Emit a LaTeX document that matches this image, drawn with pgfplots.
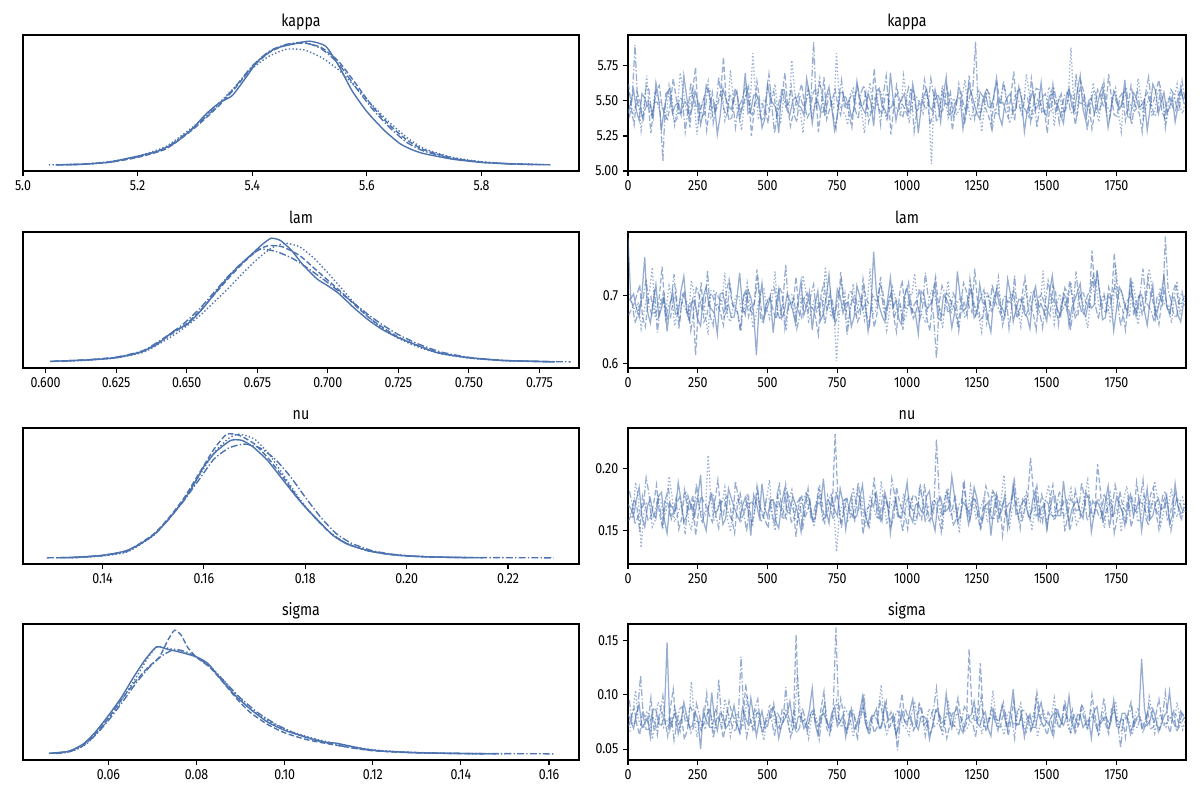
\documentclass[border=0pt]{standalone}
\usepackage{fontspec}
\setmainfont{Fira Sans}[FakeStretch=0.85]
\usepackage{pgfplots}
\pgfplotsset{compat=1.18}
\usepackage{pgfplotstable}

\definecolor{az}{RGB}{76,114,176}

\pgfplotsset{
  panel/.style={scale only axis, height=97.92pt,
    axis line style={line width=0.8pt}, tick style={line width=0.8pt,black},
    major tick length=3.5pt, tick align=outside, xtick pos=bottom, ytick pos=left,
    tick label style={font=\fontsize{10.5}{12}\selectfont},
    every axis title/.style={at={(0.5,1)}, anchor=base, yshift=6pt,
      font=\fontsize{12}{14}\selectfont},
    /pgf/number format/assume math mode=true, /pgf/number format/1000 sep={},
    scaled ticks=false},
  kde/.style={panel, width=400.32pt, ytick=\empty, ymin=-0.05, ymax=1.05,
    xticklabel style={/pgf/number format/fixed, /pgf/number format/fixed zerofill,
      /pgf/number format/precision=#1}},
  trace/.style={panel, width=401.76pt, xmin=0, xmax=1999, xtick={0,250,...,1750},
    yticklabel style={/pgf/number format/fixed, /pgf/number format/fixed zerofill,
      /pgf/number format/precision=#1}},
  k/.style={az, line width=1pt, smooth, tension=0.35},
  c0/.style={k, solid},
  c1/.style={k, dash pattern=on 4pt off 1.8pt},
  c2/.style={k, dash pattern=on 5pt off 1.6pt on 1pt off 1.6pt},
  c3/.style={k, dash pattern=on 1pt off 1.6pt},
  tr/.style={az, line width=0.9pt, opacity=0.58},
}

% draws of the 4 chains (columns), every 10th draw
\pgfplotstableread[header=false,row sep=\\]{
5.41 5.62 5.38 5.55\\ 5.49 5.44 5.52 5.40\\ 5.58 5.33 5.90 5.47\\ 5.43 5.56 5.47 5.51\\
5.36 5.51 5.44 5.29\\ 5.55 5.39 5.35 5.46\\ 5.52 5.44 5.61 5.68\\ 5.46 5.50 5.58 5.42\\
5.47 5.27 5.40 5.39\\ 5.38 5.45 5.49 5.57\\ 5.63 5.58 5.49 5.52\\ 5.51 5.61 5.42 5.48\\
5.30 5.46 5.07 5.45\\ 5.44 5.40 5.55 5.36\\ 5.55 5.37 5.57 5.61\\ 5.59 5.48 5.46 5.53\\
5.42 5.66 5.35 5.33\\ 5.47 5.53 5.37 5.45\\ 5.49 5.41 5.52 5.70\\ 5.40 5.42 5.51 5.59\\
5.68 5.50 5.28 5.44\\ 5.53 5.47 5.44 5.41\\ 5.39 5.31 5.63 5.56\\ 5.45 5.58 5.54 5.50\\
5.57 5.74 5.45 5.26\\ 5.50 5.36 5.48 5.44\\ 5.33 5.45 5.39 5.49\\ 5.42 5.52 5.41 5.55\\
5.61 5.29 5.58 5.64\\ 5.56 5.45 5.57 5.38\\ 5.44 5.56 5.34 5.41\\ 5.48 5.41 5.45 5.49\\
5.26 5.48 5.67 5.53\\ 5.39 5.55 5.52 5.58\\ 5.59 5.81 5.43 5.36\\ 5.52 5.49 5.39 5.43\\
5.46 5.36 5.55 5.72\\ 5.44 5.38 5.50 5.52\\ 5.52 5.59 5.31 5.47\\ 5.57 5.54 5.46 5.41\\
5.37 5.42 5.49 5.29\\ 5.46 5.47 5.56 5.50\\ 5.70 5.53 5.62 5.58\\ 5.41 5.60 5.43 5.45\\
5.43 5.25 5.40 5.84\\ 5.54 5.43 5.49 5.56\\ 5.55 5.64 5.52 5.38\\ 5.49 5.50 5.38 5.42\\
5.31 5.47 5.36 5.51\\ 5.37 5.44 5.53 5.48\\ 5.62 5.34 5.69 5.43\\ 5.51 5.57 5.47 5.54\\
5.48 5.57 5.27 5.62\\ 5.45 5.39 5.42 5.40\\ 5.27 5.45 5.54 5.35\\ 5.58 5.53 5.55 5.51\\
5.58 5.70 5.46 5.49\\ 5.43 5.46 5.48 5.46\\ 5.40 5.32 5.60 5.79\\ 5.50 5.41 5.40 5.57\\
5.53 5.49 5.35 5.44\\ 5.47 5.55 5.54 5.43\\ 5.45 5.62 5.48 5.27\\ 5.40 5.48 5.45 5.50\\
5.66 5.38 5.59 5.57\\ 5.55 5.42 5.51 5.39\\ 5.34 5.55 5.92 5.46\\ 5.48 5.59 5.44 5.53\\
5.50 5.28 5.63 5.66\\ 5.42 5.45 5.57 5.47\\ 5.42 5.67 5.41 5.39\\ 5.53 5.37 5.49 5.55\\
5.60 5.44 5.52 5.52\\ 5.45 5.51 5.40 5.44\\ 5.29 5.58 5.30 5.84\\ 5.39 5.46 5.53 5.49\\
5.56 5.40 5.65 5.42\\ 5.56 5.54 5.46 5.41\\ 5.47 5.52 5.45 5.33\\ 5.50 5.40 5.52 5.56\\
5.38 5.31 5.56 5.59\\ 5.44 5.52 5.43 5.48\\ 5.64 5.60 5.37 5.48\\ 5.52 5.47 5.56 5.42\\
5.45 5.46 5.61 5.27\\ 5.41 5.56 5.47 5.51\\ 5.55 5.35 5.43 5.63\\ 5.49 5.43 5.41 5.45\\
5.32 5.73 5.52 5.45\\ 5.57 5.49 5.50 5.58\\ 5.59 5.43 5.33 5.56\\ 5.46 5.41 5.55 5.43\\
5.44 5.54 5.68 5.37\\ 5.38 5.55 5.44 5.50\\ 5.70 5.26 5.46 5.50\\ 5.51 5.46 5.52 5.46\\
5.36 5.61 5.55 5.43\\ 5.47 5.51 5.42 5.39\\ 5.51 5.48 5.39 5.68\\ 5.55 5.44 5.48 5.54\\
5.43 5.39 5.60 5.34\\ 5.42 5.58 5.57 5.47\\ 5.62 5.57 5.28 5.54\\ 5.50 5.42 5.43 5.52\\
5.27 5.45 5.51 5.46\\ 5.45 5.49 5.51 5.41\\ 5.54 5.65 5.44 5.58\\ 5.58 5.53 5.46 5.49\\
5.46 5.33 5.66 5.05\\ 5.43 5.40 5.54 5.55\\ 5.58 5.52 5.35 5.49\\ 5.49 5.55 5.40 5.44\\
5.35 5.42 5.57 5.61\\ 5.54 5.45 5.49 5.51\\ 5.67 5.60 5.47 5.38\\ 5.40 5.51 5.56 5.46\\
5.41 5.29 5.39 5.52\\ 5.47 5.44 5.44 5.40\\ 5.52 5.55 5.62 5.44\\ 5.52 5.57 5.51 5.53\\
5.30 5.47 5.33 5.65\\ 5.44 5.42 5.45 5.48\\ 5.61 5.68 5.54 5.36\\ 5.56 5.50 5.58 5.43\\
5.48 5.37 5.92 5.53\\ 5.41 5.46 5.42 5.57\\ 5.37 5.56 5.42 5.28\\ 5.50 5.53 5.50 5.45\\
5.56 5.44 5.58 5.59\\ 5.46 5.39 5.55 5.50\\ 5.45 5.31 5.30 5.47\\ 5.53 5.56 5.41 5.42\\
5.66 5.63 5.51 5.40\\ 5.39 5.48 5.48 5.54\\ 5.33 5.49 5.64 5.62\\ 5.48 5.43 5.53 5.47\\
5.53 5.38 5.45 5.34\\ 5.55 5.54 5.44 5.41\\ 5.42 5.71 5.36 5.55\\ 5.45 5.45 5.57 5.52\\
5.60 5.46 5.58 5.45\\ 5.51 5.40 5.46 5.46\\ 5.28 5.54 5.43 5.69\\ 5.43 5.52 5.39 5.56\\
5.50 5.35 5.66 5.38\\ 5.57 5.47 5.52 5.44\\ 5.44 5.59 5.31 5.51\\ 5.47 5.58 5.47 5.49\\
5.63 5.42 5.53 5.43\\ 5.42 5.44 5.55 5.42\\ 5.39 5.27 5.46 5.60\\ 5.54 5.49 5.43 5.55\\
5.55 5.62 5.60 5.32\\ 5.49 5.41 5.50 5.48\\ 5.47 5.50 5.34 5.54\\ 5.40 5.55 5.45 5.40\\
5.34 5.41 5.55 5.46\\ 5.53 5.46 5.56 5.53\\ 5.59 5.57 5.42 5.88\\ 5.46 5.51 5.41 5.47\\
5.43 5.33 5.69 5.39\\ 5.58 5.43 5.49 5.58\\ 5.68 5.64 5.48 5.57\\ 5.44 5.57 5.53 5.44\\
5.36 5.45 5.29 5.44\\ 5.50 5.48 5.44 5.50\\ 5.52 5.30 5.56 5.63\\ 5.41 5.42 5.57 5.43\\
5.46 5.58 5.41 5.35\\ 5.55 5.54 5.47 5.54\\ 5.61 5.47 5.63 5.50\\ 5.48 5.45 5.40 5.46\\
5.31 5.69 5.37 5.42\\ 5.43 5.52 5.52 5.51\\ 5.57 5.40 5.52 5.59\\ 5.52 5.39 5.46 5.41\\
5.44 5.53 5.45 5.28\\ 5.47 5.56 5.55 5.56\\ 5.65 5.36 5.60 5.53\\ 5.39 5.47 5.42 5.48\\
5.38 5.61 5.33 5.45\\ 5.56 5.50 5.50 5.42\\ 5.53 5.44 5.57 5.66\\ 5.45 5.41 5.44 5.53\\
5.47 5.28 5.44 5.37\\ 5.51 5.53 5.56 5.47\\ 5.29 5.56 5.67 5.52\\ 5.44 5.46 5.48 5.40\\
5.62 5.49 5.39 5.43\\ 5.57 5.58 5.41 5.55\\ 5.41 5.65 5.54 5.60\\ 5.49 5.43 5.53 5.49\\
5.56 5.38 5.31 5.35\\ 5.42 5.51 5.47 5.44\\ 5.45 5.52 5.58 5.49\\ 5.53 5.45 5.55 5.52\\
5.35 5.43 5.46 5.62\\ 5.46 5.55 5.43 5.46\\ 5.60 5.57 5.64 5.41\\ 5.50 5.48 5.51 5.50\\
}\kappatr

\pgfplotstableread[header=false,row sep=\\]{
0.784 0.671 0.695 0.702\\ 0.695 0.679 0.688 0.684\\ 0.702 0.688 0.659 0.676\\ 0.681 0.701 0.672 0.690\\
0.668 0.715 0.690 0.651\\ 0.703 0.668 0.697 0.676\\ 0.756 0.654 0.724 0.697\\ 0.676 0.692 0.684 0.705\\
0.659 0.698 0.672 0.741\\ 0.688 0.674 0.709 0.669\\ 0.716 0.676 0.645 0.663\\ 0.669 0.697 0.678 0.693\\
0.681 0.742 0.701 0.689\\ 0.699 0.683 0.665 0.681\\ 0.647 0.665 0.685 0.714\\ 0.684 0.666 0.693 0.698\\
0.705 0.693 0.731 0.655\\ 0.672 0.706 0.680 0.674\\ 0.674 0.651 0.662 0.694\\ 0.707 0.687 0.701 0.688\\
0.728 0.707 0.694 0.678\\ 0.679 0.671 0.687 0.663\\ 0.663 0.683 0.648 0.722\\ 0.691 0.695 0.674 0.701\\
0.691 0.612 0.713 0.667\\ 0.664 0.680 0.699 0.686\\ 0.655 0.719 0.679 0.696\\ 0.698 0.661 0.683 0.672\\
0.712 0.668 0.737 0.642\\ 0.685 0.699 0.668 0.707\\ 0.679 0.702 0.655 0.707\\ 0.673 0.685 0.705 0.679\\
0.643 0.687 0.696 0.684\\ 0.702 0.673 0.691 0.692\\ 0.704 0.656 0.668 0.733\\ 0.680 0.704 0.677 0.667\\
0.686 0.723 0.719 0.661\\ 0.667 0.689 0.686 0.684\\ 0.668 0.679 0.684 0.699\\ 0.694 0.676 0.670 0.699\\
0.733 0.648 0.647 0.675\\ 0.683 0.694 0.703 0.676\\ 0.671 0.709 0.702 0.718\\ 0.708 0.669 0.681 0.690\\
0.697 0.685 0.673 0.652\\ 0.675 0.687 0.694 0.668\\ 0.612 0.738 0.726 0.688\\ 0.689 0.700 0.666 0.703\\
0.718 0.662 0.658 0.709\\ 0.670 0.678 0.689 0.681\\ 0.683 0.697 0.691 0.666\\ 0.697 0.692 0.708 0.694\\
0.645 0.674 0.711 0.735\\ 0.684 0.665 0.675 0.673\\ 0.709 0.712 0.664 0.679\\ 0.666 0.703 0.692 0.687\\
0.676 0.651 0.745 0.648\\ 0.701 0.681 0.679 0.700\\ 0.692 0.689 0.682 0.701\\ 0.678 0.690 0.697 0.665\\
0.658 0.727 0.651 0.687\\ 0.692 0.675 0.669 0.689\\ 0.721 0.667 0.698 0.729\\ 0.671 0.698 0.686 0.706\\
0.684 0.703 0.673 0.659\\ 0.705 0.684 0.700 0.677\\ 0.649 0.681 0.716 0.694\\ 0.686 0.667 0.673 0.691\\
0.706 0.642 0.688 0.672\\ 0.663 0.702 0.695 0.670\\ 0.673 0.718 0.657 0.742\\ 0.696 0.679 0.682 0.698\\
0.730 0.693 0.704 0.668\\ 0.680 0.693 0.667 0.684\\ 0.665 0.658 0.679 0.603\\ 0.709 0.671 0.704 0.676\\
0.699 0.734 0.722 0.683\\ 0.674 0.688 0.688 0.703\\ 0.688 0.676 0.642 0.653\\ 0.690 0.705 0.676 0.682\\
0.654 0.705 0.697 0.717\\ 0.668 0.682 0.698 0.669\\ 0.714 0.661 0.675 0.691\\ 0.699 0.670 0.684 0.695\\
0.679 0.724 0.711 0.664\\ 0.687 0.696 0.671 0.686\\ 0.647 0.688 0.656 0.739\\ 0.677 0.684 0.702 0.672\\
0.764 0.653 0.693 0.677\\ 0.703 0.673 0.690 0.704\\ 0.684 0.716 0.727 0.698\\ 0.670 0.707 0.678 0.688\\
0.661 0.679 0.668 0.649\\ 0.693 0.686 0.696 0.677\\ 0.726 0.704 0.702 0.712\\ 0.682 0.668 0.669 0.697\\
0.693 0.646 0.681 0.686\\ 0.665 0.699 0.687 0.683\\ 0.657 0.722 0.649 0.661\\ 0.698 0.681 0.706 0.671\\
0.711 0.682 0.719 0.703\\ 0.684 0.694 0.674 0.700\\ 0.677 0.666 0.686 0.732\\ 0.672 0.676 0.693 0.686\\
0.643 0.709 0.664 0.675\\ 0.706 0.690 0.681 0.668\\ 0.701 0.691 0.733 0.659\\ 0.679 0.663 0.699 0.692\\
0.685 0.648 0.695 0.707\\ 0.691 0.703 0.668 0.705\\ 0.719 0.727 0.607 0.684\\ 0.667 0.685 0.689 0.680\\
0.663 0.671 0.714 0.651\\ 0.700 0.672 0.703 0.694\\ 0.695 0.703 0.676 0.721\\ 0.685 0.697 0.677 0.673\\
0.652 0.685 0.703 0.688\\ 0.674 0.680 0.694 0.687\\ 0.735 0.652 0.648 0.694\\ 0.697 0.688 0.683 0.699\\
0.676 0.718 0.689 0.667\\ 0.681 0.706 0.670 0.676\\ 0.698 0.683 0.724 0.713\\ 0.708 0.675 0.697 0.690\\
0.667 0.739 0.671 0.681\\ 0.673 0.691 0.686 0.667\\ 0.716 0.664 0.698 0.646\\ 0.689 0.669 0.708 0.701\\
0.689 0.697 0.659 0.705\\ 0.664 0.700 0.679 0.684\\ 0.646 0.677 0.716 0.688\\ 0.695 0.683 0.692 0.696\\
0.708 0.712 0.682 0.726\\ 0.686 0.694 0.672 0.675\\ 0.682 0.656 0.697 0.662\\ 0.671 0.677 0.700 0.689\\
0.724 0.691 0.651 0.697\\ 0.702 0.689 0.684 0.703\\ 0.661 0.708 0.729 0.683\\ 0.680 0.666 0.669 0.678\\
0.694 0.673 0.685 0.654\\ 0.693 0.701 0.696 0.692\\ 0.673 0.726 0.669 0.715\\ 0.668 0.684 0.681 0.670\\
0.651 0.684 0.706 0.691\\ 0.699 0.673 0.705 0.698\\ 0.713 0.649 0.684 0.669\\ 0.683 0.697 0.675 0.685\\
0.687 0.702 0.652 0.736\\ 0.676 0.686 0.690 0.673\\ 0.662 0.679 0.721 0.684\\ 0.704 0.670 0.698 0.702\\
0.729 0.714 0.693 0.658\\ 0.690 0.705 0.668 0.688\\ 0.678 0.657 0.667 0.702\\ 0.669 0.688 0.685 0.677\\
0.703 0.696 0.711 0.689\\ 0.696 0.678 0.701 0.693\\ 0.655 0.722 0.648 0.719\\ 0.682 0.695 0.679 0.681\\
0.692 0.667 0.735 0.671\\ 0.705 0.671 0.694 0.704\\ 0.717 0.704 0.674 0.694\\ 0.675 0.703 0.672 0.671\\
0.669 0.686 0.699 0.652\\ 0.692 0.682 0.707 0.697\\ 0.681 0.766 0.725 0.729\\ 0.686 0.713 0.684 0.716\\
0.737 0.731 0.665 0.683\\ 0.701 0.698 0.691 0.685\\ 0.664 0.678 0.702 0.698\\ 0.667 0.675 0.677 0.694\\
0.699 0.711 0.679 0.663\\ 0.694 0.692 0.700 0.676\\ 0.648 0.762 0.714 0.745\\ 0.680 0.707 0.686 0.702\\
0.712 0.684 0.655 0.706\\ 0.703 0.679 0.673 0.689\\ 0.685 0.649 0.691 0.678\\ 0.673 0.691 0.695 0.668\\
0.726 0.719 0.708 0.721\\ 0.688 0.670 0.682 0.700\\ 0.669 0.693 0.672 0.657\\ 0.699 0.699 0.704 0.683\\
0.701 0.672 0.739 0.697\\ 0.677 0.684 0.690 0.695\\ 0.656 0.726 0.684 0.739\\ 0.691 0.702 0.676 0.710\\
0.715 0.689 0.661 0.673\\ 0.666 0.676 0.697 0.679\\ 0.683 0.657 0.703 0.711\\ 0.700 0.693 0.683 0.692\\
0.729 0.705 0.786 0.684\\ 0.684 0.681 0.708 0.686\\ 0.672 0.674 0.693 0.659\\ 0.697 0.704 0.671 0.698\\
0.694 0.717 0.667 0.721\\ 0.671 0.688 0.693 0.672\\ 0.661 0.688 0.705 0.693\\ 0.689 0.696 0.685 0.701\\
}\lamtr

\pgfplotstableread[header=false,row sep=\\]{
0.171 0.158 0.182 0.164\\ 0.168 0.163 0.172 0.160\\ 0.162 0.176 0.155 0.189\\ 0.175 0.169 0.161 0.177\\
0.185 0.149 0.168 0.136\\ 0.161 0.178 0.170 0.165\\ 0.153 0.170 0.193 0.172\\ 0.170 0.158 0.180 0.171\\
0.176 0.161 0.159 0.153\\ 0.164 0.172 0.163 0.158\\ 0.160 0.187 0.174 0.178\\ 0.178 0.165 0.168 0.174\\
0.181 0.154 0.151 0.161\\ 0.159 0.174 0.176 0.166\\ 0.148 0.173 0.185 0.194\\ 0.172 0.161 0.159 0.179\\
0.168 0.164 0.163 0.157\\ 0.166 0.176 0.173 0.163\\ 0.189 0.151 0.177 0.169\\ 0.174 0.160 0.166 0.170\\
0.157 0.183 0.147 0.182\\ 0.162 0.170 0.178 0.158\\ 0.174 0.166 0.171 0.150\\ 0.169 0.179 0.160 0.175\\
0.163 0.146 0.188 0.176\\ 0.177 0.164 0.171 0.168\\ 0.195 0.178 0.156 0.163\\ 0.158 0.173 0.165 0.162\\
0.150 0.169 0.166 0.211\\ 0.171 0.162 0.179 0.176\\ 0.179 0.157 0.180 0.158\\ 0.165 0.175 0.162 0.164\\
0.166 0.191 0.152 0.174\\ 0.173 0.167 0.174 0.172\\ 0.155 0.163 0.175 0.185\\ 0.160 0.178 0.167 0.159\\
0.184 0.176 0.162 0.149\\ 0.176 0.159 0.158 0.170\\ 0.169 0.148 0.190 0.171\\ 0.163 0.171 0.177 0.178\\
0.158 0.180 0.158 0.166\\ 0.170 0.166 0.164 0.165\\ 0.177 0.167 0.149 0.180\\ 0.167 0.177 0.172 0.161\\
0.146 0.155 0.173 0.155\\ 0.179 0.163 0.169 0.173\\ 0.172 0.186 0.183 0.177\\ 0.161 0.170 0.157 0.167\\
0.188 0.162 0.160 0.162\\ 0.168 0.158 0.175 0.177\\ 0.161 0.152 0.176 0.191\\ 0.174 0.175 0.166 0.160\\
0.175 0.174 0.154 0.150\\ 0.157 0.168 0.180 0.171\\ 0.152 0.189 0.168 0.172\\ 0.172 0.161 0.163 0.166\\
0.183 0.159 0.187 0.160\\ 0.165 0.180 0.171 0.175\\ 0.164 0.171 0.157 0.183\\ 0.178 0.167 0.160 0.162\\
0.171 0.145 0.172 0.156\\ 0.163 0.172 0.176 0.169\\ 0.149 0.179 0.150 0.175\\ 0.169 0.160 0.168 0.180\\
0.180 0.165 0.184 0.168\\ 0.175 0.174 0.161 0.164\\ 0.159 0.156 0.164 0.153\\ 0.159 0.165 0.174 0.172\\
0.173 0.184 0.178 0.187\\ 0.171 0.179 0.165 0.158\\ 0.192 0.160 0.155 0.164\\ 0.166 0.162 0.178 0.174\\
0.156 0.172 0.169 0.179\\ 0.177 0.170 0.159 0.167\\ 0.167 0.228 0.182 0.133\\ 0.162 0.176 0.170 0.163\\
0.184 0.157 0.152 0.171\\ 0.173 0.163 0.175 0.176\\ 0.151 0.175 0.176 0.158\\ 0.168 0.169 0.162 0.161\\
0.178 0.163 0.161 0.185\\ 0.160 0.158 0.173 0.170\\ 0.162 0.181 0.189 0.166\\ 0.176 0.175 0.167 0.178\\
0.187 0.147 0.167 0.152\\ 0.164 0.166 0.158 0.165\\ 0.154 0.169 0.153 0.177\\ 0.170 0.173 0.177 0.171\\
0.170 0.193 0.180 0.163\\ 0.180 0.161 0.164 0.159\\ 0.165 0.161 0.158 0.190\\ 0.158 0.178 0.171 0.173\\
0.181 0.177 0.174 0.155\\ 0.172 0.167 0.166 0.168\\ 0.148 0.154 0.192 0.172\\ 0.167 0.160 0.179 0.176\\
0.176 0.185 0.163 0.161\\ 0.161 0.174 0.161 0.162\\ 0.160 0.166 0.149 0.180\\ 0.175 0.164 0.172 0.170\\
0.189 0.151 0.177 0.167\\ 0.163 0.171 0.168 0.177\\ 0.157 0.179 0.165 0.154\\ 0.171 0.177 0.160 0.164\\
0.172 0.164 0.186 0.188\\ 0.166 0.159 0.175 0.172\\ 0.163 0.188 0.157 0.169\\ 0.178 0.168 0.169 0.158\\
0.182 0.158 0.170 0.159\\ 0.160 0.175 0.163 0.174\\ 0.150 0.173 0.224 0.176\\ 0.174 0.162 0.178 0.167\\
0.177 0.149 0.162 0.151\\ 0.165 0.173 0.165 0.180\\ 0.166 0.182 0.180 0.183\\ 0.169 0.166 0.172 0.163\\
0.194 0.167 0.154 0.165\\ 0.177 0.179 0.159 0.169\\ 0.158 0.156 0.171 0.148\\ 0.162 0.161 0.174 0.175\\
0.173 0.190 0.188 0.174\\ 0.170 0.170 0.167 0.161\\ 0.155 0.163 0.159 0.186\\ 0.164 0.176 0.176 0.172\\
0.185 0.175 0.175 0.160\\ 0.176 0.163 0.162 0.166\\ 0.161 0.152 0.151 0.171\\ 0.158 0.169 0.170 0.178\\
0.170 0.186 0.168 0.157\\ 0.173 0.178 0.164 0.160\\ 0.146 0.160 0.183 0.182\\ 0.167 0.160 0.179 0.171\\
0.179 0.178 0.156 0.166\\ 0.161 0.172 0.168 0.175\\ 0.167 0.146 0.173 0.195\\ 0.179 0.165 0.161 0.164\\
0.152 0.171 0.164 0.153\\ 0.168 0.174 0.173 0.169\\ 0.188 0.184 0.190 0.172\\ 0.163 0.167 0.166 0.177\\
0.164 0.157 0.152 0.163\\ 0.172 0.158 0.177 0.162\\ 0.175 0.168 0.178 0.181\\ 0.166 0.177 0.160 0.173\\
0.159 0.209 0.165 0.150\\ 0.175 0.182 0.171 0.167\\ 0.183 0.162 0.186 0.175\\ 0.159 0.164 0.165 0.158\\
0.168 0.179 0.157 0.168\\ 0.171 0.171 0.175 0.176\\ 0.151 0.153 0.172 0.187\\ 0.165 0.176 0.163 0.165\\
0.177 0.187 0.161 0.158\\ 0.178 0.161 0.169 0.171\\ 0.162 0.166 0.181 0.173\\ 0.162 0.168 0.178 0.163\\
0.190 0.174 0.149 0.162\\ 0.170 0.175 0.162 0.174\\ 0.156 0.150 0.176 0.184\\ 0.167 0.159 0.172 0.168\\
0.172 0.183 0.166 0.155\\ 0.174 0.172 0.167 0.160\\ 0.165 0.161 0.189 0.170\\ 0.160 0.166 0.176 0.179\\
0.181 0.177 0.158 0.191\\ 0.176 0.178 0.164 0.166\\ 0.149 0.164 0.174 0.160\\ 0.164 0.163 0.170 0.172\\
0.174 0.204 0.163 0.176\\ 0.169 0.183 0.159 0.163\\ 0.160 0.156 0.180 0.152\\ 0.173 0.165 0.174 0.175\\
0.186 0.171 0.152 0.181\\ 0.161 0.174 0.168 0.161\\ 0.163 0.148 0.187 0.165\\ 0.177 0.160 0.177 0.170\\
0.171 0.182 0.169 0.149\\ 0.166 0.170 0.163 0.177\\ 0.154 0.166 0.157 0.186\\ 0.171 0.177 0.171 0.165\\
0.179 0.153 0.177 0.168\\ 0.163 0.162 0.166 0.172\\ 0.167 0.189 0.165 0.157\\ 0.175 0.173 0.175 0.160\\
0.150 0.172 0.191 0.179\\ 0.168 0.167 0.160 0.174\\ 0.184 0.160 0.154 0.163\\ 0.159 0.179 0.172 0.168\\
0.162 0.185 0.172 0.190\\ 0.172 0.164 0.165 0.176\\ 0.176 0.151 0.161 0.154\\ 0.167 0.171 0.178 0.163\\
0.169 0.176 0.182 0.173\\ 0.178 0.159 0.169 0.171\\ 0.155 0.163 0.150 0.184\\ 0.162 0.175 0.163 0.166\\
0.188 0.180 0.176 0.161\\ 0.170 0.168 0.174 0.173\\ 0.164 0.158 0.166 0.177\\ 0.165 0.172 0.167 0.164\\
}\nutr

\pgfplotstableread[header=false,row sep=\\]{
0.082 0.071 0.095 0.066\\ 0.076 0.080 0.073 0.084\\ 0.069 0.088 0.074 0.104\\ 0.083 0.072 0.086 0.077\\
0.091 0.063 0.118 0.072\\ 0.070 0.085 0.079 0.069\\ 0.074 0.079 0.068 0.085\\ 0.079 0.074 0.068 0.081\\
0.061 0.097 0.081 0.059\\ 0.087 0.069 0.076 0.073\\ 0.086 0.068 0.063 0.093\\ 0.073 0.082 0.084 0.088\\
0.072 0.084 0.099 0.070\\ 0.080 0.076 0.071 0.075\\ 0.148 0.062 0.071 0.078\\ 0.068 0.088 0.080 0.070\\
0.078 0.105 0.058 0.089\\ 0.084 0.071 0.074 0.079\\ 0.064 0.073 0.087 0.067\\ 0.075 0.079 0.089 0.086\\
0.093 0.059 0.076 0.081\\ 0.081 0.067 0.077 0.072\\ 0.070 0.090 0.065 0.112\\ 0.071 0.084 0.070 0.080\\
0.084 0.076 0.092 0.061\\ 0.078 0.075 0.082 0.076\\ 0.050 0.067 0.070 0.075\\ 0.086 0.080 0.075 0.068\\
0.076 0.101 0.083 0.088\\ 0.072 0.070 0.087 0.083\\ 0.102 0.070 0.060 0.065\\ 0.077 0.087 0.072 0.078\\
0.067 0.081 0.114 0.079\\ 0.083 0.073 0.079 0.071\\ 0.081 0.060 0.073 0.096\\ 0.069 0.078 0.085 0.085\\
0.073 0.094 0.079 0.062\\ 0.079 0.083 0.069 0.074\\ 0.090 0.077 0.066 0.083\\ 0.074 0.071 0.078 0.080\\
0.065 0.065 0.135 0.071\\ 0.088 0.077 0.081 0.073\\ 0.079 0.110 0.061 0.099\\ 0.073 0.085 0.074 0.079\\
0.097 0.072 0.077 0.068\\ 0.080 0.068 0.088 0.087\\ 0.062 0.085 0.096 0.080\\ 0.076 0.081 0.071 0.070\\
0.085 0.064 0.069 0.058\\ 0.070 0.074 0.079 0.077\\ 0.071 0.078 0.084 0.091\\ 0.085 0.079 0.076 0.083\\
0.088 0.092 0.062 0.074\\ 0.078 0.072 0.084 0.075\\ 0.060 0.069 0.078 0.069\\ 0.072 0.086 0.073 0.081\\
0.077 0.082 0.107 0.087\\ 0.082 0.076 0.080 0.069\\ 0.094 0.061 0.072 0.064\\ 0.075 0.070 0.086 0.078\\
0.068 0.155 0.065 0.120\\ 0.080 0.084 0.070 0.084\\ 0.080 0.074 0.088 0.076\\ 0.069 0.077 0.077 0.072\\
0.074 0.066 0.070 0.060\\ 0.086 0.081 0.083 0.079\\ 0.106 0.087 0.081 0.085\\ 0.074 0.073 0.074 0.076\\
0.063 0.071 0.059 0.072\\ 0.079 0.088 0.081 0.085\\ 0.083 0.103 0.093 0.081\\ 0.077 0.069 0.072 0.071\\
0.070 0.063 0.067 0.066\\ 0.083 0.080 0.087 0.080\\ 0.089 0.080 0.162 0.094\\ 0.071 0.075 0.078 0.074\\
0.075 0.096 0.075 0.070\\ 0.081 0.083 0.073 0.088\\ 0.061 0.068 0.064 0.083\\ 0.076 0.071 0.085 0.077\\
0.087 0.083 0.086 0.061\\ 0.068 0.079 0.076 0.073\\ 0.072 0.058 0.071 0.077\\ 0.084 0.086 0.080 0.082\\
0.098 0.089 0.101 0.090\\ 0.074 0.074 0.071 0.070\\ 0.066 0.075 0.063 0.068\\ 0.079 0.077 0.082 0.079\\
0.081 0.065 0.080 0.079\\ 0.087 0.070 0.075 0.086\\ 0.069 0.095 0.068 0.109\\ 0.072 0.082 0.084 0.075\\
0.092 0.070 0.094 0.064\\ 0.078 0.078 0.070 0.072\\ 0.077 0.084 0.073 0.075\\ 0.082 0.073 0.079 0.081\\
0.063 0.062 0.049 0.086\\ 0.070 0.085 0.074 0.077\\ 0.085 0.101 0.085 0.071\\ 0.076 0.075 0.086 0.069\\
0.072 0.076 0.077 0.063\\ 0.085 0.080 0.077 0.084\\ 0.096 0.067 0.069 0.092\\ 0.073 0.072 0.072 0.078\\
0.068 0.091 0.091 0.078\\ 0.080 0.087 0.081 0.074\\ 0.080 0.073 0.062 0.069\\ 0.077 0.076 0.075 0.087\\
0.059 0.064 0.079 0.084\\ 0.071 0.070 0.088 0.071\\ 0.083 0.086 0.106 0.073\\ 0.088 0.083 0.073 0.080\\
0.074 0.078 0.066 0.062\\ 0.075 0.077 0.078 0.076\\ 0.101 0.060 0.083 0.095\\ 0.079 0.071 0.083 0.073\\
0.069 0.083 0.072 0.070\\ 0.084 0.084 0.070 0.083\\ 0.088 0.097 0.064 0.081\\ 0.070 0.079 0.077 0.078\\
0.065 0.068 0.089 0.067\\ 0.077 0.073 0.085 0.070\\ 0.079 0.142 0.075 0.076\\ 0.082 0.088 0.074 0.079\\
0.094 0.075 0.061 0.088\\ 0.074 0.078 0.080 0.085\\ 0.071 0.129 0.098 0.064\\ 0.080 0.085 0.071 0.074\\
0.084 0.066 0.070 0.079\\ 0.069 0.074 0.079 0.077\\ 0.062 0.089 0.082 0.104\\ 0.086 0.080 0.076 0.082\\
0.077 0.071 0.067 0.071\\ 0.076 0.069 0.084 0.072\\ 0.090 0.080 0.093 0.063\\ 0.078 0.083 0.073 0.080\\
0.068 0.062 0.074 0.085\\ 0.083 0.076 0.078 0.075\\ 0.105 0.094 0.060 0.072\\ 0.073 0.072 0.087 0.084\\
0.073 0.073 0.087 0.092\\ 0.081 0.086 0.070 0.071\\ 0.061 0.085 0.077 0.066\\ 0.075 0.079 0.080 0.078\\
0.082 0.067 0.068 0.078\\ 0.070 0.074 0.075 0.086\\ 0.070 0.099 0.102 0.061\\ 0.084 0.081 0.083 0.073\\
0.093 0.074 0.071 0.087\\ 0.078 0.070 0.072 0.077\\ 0.075 0.063 0.084 0.074\\ 0.072 0.077 0.079 0.081\\
0.064 0.082 0.063 0.097\\ 0.087 0.084 0.085 0.074\\ 0.086 0.070 0.079 0.069\\ 0.076 0.073 0.074 0.079\\
0.072 0.091 0.095 0.082\\ 0.079 0.079 0.077 0.070\\ 0.099 0.076 0.066 0.064\\ 0.074 0.086 0.081 0.083\\
0.067 0.065 0.076 0.076\\ 0.082 0.071 0.071 0.078\\ 0.081 0.087 0.090 0.091\\ 0.070 0.080 0.086 0.075\\
0.074 0.072 0.069 0.068\\ 0.077 0.075 0.076 0.087\\ 0.060 0.100 0.081 0.080\\ 0.085 0.082 0.073 0.072\\
0.089 0.069 0.064 0.062\\ 0.073 0.077 0.080 0.080\\ 0.076 0.079 0.097 0.086\\ 0.080 0.072 0.078 0.076\\
0.068 0.064 0.073 0.073\\ 0.075 0.087 0.084 0.084\\ 0.095 0.088 0.083 0.094\\ 0.071 0.074 0.072 0.071\\
0.070 0.075 0.051 0.067\\ 0.083 0.079 0.077 0.079\\ 0.083 0.061 0.078 0.079\\ 0.078 0.084 0.083 0.074\\
0.064 0.093 0.088 0.063\\ 0.074 0.071 0.070 0.082\\ 0.078 0.077 0.070 0.088\\ 0.081 0.080 0.079 0.077\\
0.133 0.068 0.065 0.072\\ 0.088 0.076 0.075 0.070\\ 0.072 0.084 0.091 0.098\\ 0.076 0.069 0.082 0.085\\
0.087 0.070 0.075 0.065\\ 0.079 0.083 0.073 0.078\\ 0.066 0.096 0.068 0.081\\ 0.072 0.078 0.080 0.073\\
0.080 0.073 0.102 0.070\\ 0.084 0.074 0.076 0.081\\ 0.103 0.065 0.079 0.076\\ 0.077 0.081 0.085 0.075\\
0.071 0.082 0.066 0.093\\ 0.070 0.075 0.071 0.079\\ 0.085 0.074 0.084 0.068\\ 0.080 0.079 0.078 0.077\\
}\sigmatr

\newcommand\traces[1]{%
  \addplot[tr, solid] table[x expr=\coordindex*10, y index=0] {#1};
  \addplot[tr, dash pattern=on 4pt off 1.8pt] table[x expr=\coordindex*10+2, y index=1] {#1};
  \addplot[tr, dash pattern=on 5pt off 1.6pt on 1pt off 1.6pt] table[x expr=\coordindex*10+5, y index=2] {#1};
  \addplot[tr, dash pattern=on 1pt off 1.6pt] table[x expr=\coordindex*10+7, y index=3] {#1};
}

\begin{document}
\begin{tikzpicture}
\path[use as bounding box] (0,0) rectangle (864pt,-576pt);

% ---- kappa ----
\begin{axis}[kde=1, at={(16.56pt,-25.2pt)}, anchor=north west, title={kappa},
  xmin=5.0, xmax=5.97, xtick={5.0,5.2,5.4,5.6,5.8}]
\addplot[c0] coordinates {(5.057,0) (5.10,0.003) (5.15,0.022) (5.20,0.07) (5.235,0.11) (5.266,0.18) (5.295,0.29) (5.319,0.41) (5.342,0.50) (5.365,0.56) (5.388,0.70) (5.41,0.84) (5.44,0.94) (5.47,0.975) (5.50,1.0) (5.528,0.96) (5.551,0.80) (5.574,0.60) (5.60,0.43) (5.63,0.28) (5.658,0.17) (5.68,0.12) (5.70,0.09) (5.75,0.045) (5.80,0.02) (5.85,0.008) (5.90,0.002) (5.92,0)};
\addplot[c1] coordinates {(5.06,0) (5.10,0.004) (5.15,0.02) (5.20,0.06) (5.25,0.13) (5.30,0.30) (5.34,0.47) (5.37,0.62) (5.40,0.79) (5.43,0.91) (5.46,0.97) (5.49,0.985) (5.52,0.95) (5.55,0.84) (5.58,0.66) (5.61,0.47) (5.64,0.32) (5.67,0.2) (5.70,0.12) (5.75,0.055) (5.80,0.022) (5.85,0.008) (5.90,0.002)};
\addplot[c2] coordinates {(5.06,0) (5.10,0.005) (5.15,0.02) (5.20,0.065) (5.25,0.14) (5.30,0.31) (5.34,0.48) (5.37,0.63) (5.40,0.80) (5.43,0.92) (5.46,0.975) (5.49,0.99) (5.52,0.94) (5.55,0.82) (5.58,0.63) (5.61,0.45) (5.64,0.30) (5.67,0.18) (5.70,0.11) (5.75,0.05) (5.80,0.02) (5.85,0.007) (5.89,0.001)};
\addplot[c3] coordinates {(5.045,0) (5.10,0.006) (5.15,0.025) (5.20,0.07) (5.25,0.15) (5.30,0.32) (5.34,0.49) (5.37,0.63) (5.40,0.78) (5.43,0.88) (5.46,0.935) (5.49,0.93) (5.52,0.87) (5.55,0.77) (5.58,0.63) (5.61,0.48) (5.64,0.34) (5.67,0.22) (5.70,0.13) (5.75,0.06) (5.80,0.025) (5.85,0.01) (5.91,0.002)};
\end{axis}
\begin{axis}[trace=2, at={(452.16pt,-25.2pt)}, anchor=north west, title={kappa},
  ymin=5.0, ymax=5.97, ytick={5.00,5.25,5.50,5.75}]
\traces{\kappatr}
\end{axis}

% ---- lam ----
\begin{axis}[kde=3, at={(16.56pt,-167.04pt)}, anchor=north west, title={lam},
  xmin=0.592, xmax=0.789, xtick={0.600,0.625,0.650,0.675,0.700,0.725,0.750,0.775}]
\addplot[c0] coordinates {(0.6016,0.004) (0.615,0.015) (0.625,0.033) (0.633,0.073) (0.6394,0.14) (0.6455,0.25) (0.650,0.30) (0.6549,0.41) (0.6588,0.52) (0.6626,0.63) (0.6678,0.76) (0.673,0.87) (0.6768,0.95) (0.680,1.0) (0.6833,0.98) (0.6872,0.90) (0.691,0.79) (0.6962,0.67) (0.700,0.615) (0.704,0.55) (0.7091,0.44) (0.7143,0.34) (0.7194,0.26) (0.725,0.195) (0.7324,0.127) (0.7389,0.073) (0.750,0.033) (0.7621,0.011) (0.775,0.003) (0.780,0)};
\addplot[c1] coordinates {(0.603,0.004) (0.615,0.016) (0.625,0.036) (0.635,0.09) (0.645,0.23) (0.650,0.31) (0.655,0.42) (0.660,0.55) (0.665,0.68) (0.670,0.80) (0.675,0.90) (0.679,0.94) (0.684,0.93) (0.690,0.86) (0.695,0.76) (0.700,0.66) (0.705,0.56) (0.710,0.45) (0.715,0.35) (0.720,0.27) (0.725,0.20) (0.732,0.13) (0.740,0.07) (0.750,0.033) (0.762,0.011) (0.775,0.003) (0.781,0)};
\addplot[c2] coordinates {(0.602,0.003) (0.615,0.017) (0.625,0.038) (0.635,0.095) (0.645,0.24) (0.650,0.33) (0.655,0.44) (0.660,0.57) (0.665,0.70) (0.670,0.81) (0.676,0.91) (0.682,0.89) (0.688,0.83) (0.694,0.74) (0.700,0.64) (0.705,0.55) (0.710,0.46) (0.715,0.37) (0.720,0.29) (0.725,0.22) (0.732,0.145) (0.740,0.08) (0.750,0.036) (0.762,0.012) (0.775,0.003) (0.786,0)};
\addplot[c3] coordinates {(0.606,0.003) (0.615,0.013) (0.625,0.032) (0.635,0.08) (0.645,0.21) (0.650,0.29) (0.655,0.38) (0.660,0.49) (0.665,0.60) (0.670,0.72) (0.675,0.83) (0.680,0.92) (0.685,0.96) (0.690,0.93) (0.695,0.84) (0.700,0.72) (0.705,0.59) (0.710,0.46) (0.715,0.35) (0.720,0.26) (0.725,0.19) (0.732,0.12) (0.740,0.065) (0.750,0.03) (0.762,0.01) (0.775,0.002) (0.780,0)};
\end{axis}
\begin{axis}[trace=1, at={(452.16pt,-167.04pt)}, anchor=north west, title={lam},
  ymin=0.593, ymax=0.793, ytick={0.6,0.7}]
\traces{\lamtr}
\end{axis}

% ---- nu ----
\begin{axis}[kde=2, at={(16.56pt,-308.16pt)}, anchor=north west, title={nu},
  xmin=0.1243, xmax=0.234, xtick={0.14,0.16,0.18,0.20,0.22}]
\addplot[c0] coordinates {(0.131,0) (0.1344,0.005) (0.14,0.02) (0.1445,0.055) (0.1473,0.11) (0.1502,0.19) (0.1531,0.315) (0.156,0.465) (0.1581,0.60) (0.16,0.74) (0.1624,0.86) (0.1653,0.95) (0.1675,0.95) (0.1696,0.90) (0.1725,0.79) (0.1754,0.64) (0.1783,0.49) (0.18,0.41) (0.1826,0.30) (0.1855,0.18) (0.1883,0.11) (0.1927,0.055) (0.197,0.027) (0.20,0.016) (0.2042,0.008) (0.21,0.003) (0.215,0)};
\addplot[c1] coordinates {(0.133,0) (0.136,0.006) (0.14,0.02) (0.145,0.06) (0.150,0.19) (0.153,0.32) (0.156,0.48) (0.159,0.68) (0.162,0.88) (0.1645,1.0) (0.167,0.99) (0.170,0.92) (0.173,0.79) (0.176,0.63) (0.179,0.46) (0.182,0.32) (0.185,0.2) (0.188,0.12) (0.192,0.06) (0.196,0.03) (0.200,0.015) (0.205,0.006) (0.212,0.001)};
\addplot[c2] coordinates {(0.129,0) (0.135,0.004) (0.14,0.018) (0.145,0.055) (0.150,0.18) (0.153,0.31) (0.156,0.46) (0.159,0.63) (0.162,0.80) (0.165,0.89) (0.168,0.92) (0.171,0.89) (0.174,0.80) (0.177,0.66) (0.180,0.49) (0.183,0.33) (0.186,0.2) (0.189,0.12) (0.193,0.06) (0.197,0.03) (0.201,0.014) (0.206,0.006) (0.212,0.003) (0.220,0.001) (0.229,0)};
\addplot[c3] coordinates {(0.134,0) (0.14,0.015) (0.145,0.05) (0.150,0.18) (0.153,0.31) (0.156,0.47) (0.159,0.66) (0.162,0.85) (0.165,0.97) (0.167,1.0) (0.170,0.96) (0.173,0.83) (0.176,0.65) (0.179,0.47) (0.182,0.32) (0.185,0.2) (0.188,0.12) (0.192,0.06) (0.196,0.032) (0.200,0.018) (0.205,0.008) (0.210,0.002)};
\end{axis}
\begin{axis}[trace=2, at={(452.16pt,-308.16pt)}, anchor=north west, title={nu},
  ymin=0.123, ymax=0.233, ytick={0.15,0.20}]
\traces{\nutr}
\end{axis}

% ---- sigma ----
\begin{axis}[kde=2, at={(16.56pt,-449.28pt)}, anchor=north west, title={sigma},
  xmin=0.0406, xmax=0.1668, xtick={0.06,0.08,0.10,0.12,0.14,0.16}]
\addplot[c0] coordinates {(0.0465,0.005) (0.0509,0.02) (0.0543,0.08) (0.057,0.175) (0.060,0.31) (0.063,0.46) (0.0657,0.62) (0.0683,0.76) (0.0709,0.865) (0.0735,0.845) (0.0761,0.824) (0.080,0.784) (0.0826,0.73) (0.0857,0.595) (0.0891,0.46) (0.0926,0.35) (0.0961,0.257) (0.100,0.19) (0.1048,0.135) (0.1091,0.095) (0.1117,0.086) (0.1178,0.041) (0.1222,0.022) (0.1309,0.008) (0.1396,0.003) (0.148,0)};
\addplot[c1] coordinates {(0.047,0.004) (0.051,0.02) (0.054,0.07) (0.057,0.16) (0.060,0.29) (0.063,0.44) (0.066,0.58) (0.069,0.70) (0.0715,0.78) (0.0735,0.92) (0.075,1.0) (0.0765,0.96) (0.078,0.86) (0.080,0.78) (0.083,0.70) (0.086,0.58) (0.089,0.45) (0.092,0.34) (0.096,0.24) (0.100,0.17) (0.105,0.115) (0.110,0.08) (0.115,0.05) (0.120,0.025) (0.128,0.01) (0.138,0.003) (0.145,0)};
\addplot[c2] coordinates {(0.048,0.003) (0.051,0.015) (0.054,0.06) (0.057,0.15) (0.060,0.27) (0.063,0.41) (0.066,0.56) (0.069,0.69) (0.072,0.79) (0.075,0.845) (0.078,0.82) (0.081,0.76) (0.084,0.67) (0.087,0.56) (0.090,0.45) (0.094,0.33) (0.098,0.24) (0.102,0.17) (0.106,0.12) (0.110,0.085) (0.115,0.05) (0.120,0.028) (0.127,0.013) (0.135,0.005) (0.145,0.002) (0.161,0)};
\addplot[c3] coordinates {(0.049,0.004) (0.052,0.025) (0.055,0.08) (0.058,0.19) (0.061,0.33) (0.064,0.49) (0.067,0.66) (0.069,0.78) (0.071,0.865) (0.074,0.85) (0.077,0.82) (0.080,0.78) (0.083,0.71) (0.086,0.60) (0.089,0.48) (0.092,0.37) (0.096,0.27) (0.100,0.2) (0.105,0.14) (0.110,0.095) (0.115,0.06) (0.120,0.033) (0.127,0.015) (0.135,0.006) (0.142,0.002) (0.150,0)};
\end{axis}
\begin{axis}[trace=2, at={(452.16pt,-449.28pt)}, anchor=north west, title={sigma},
  ymin=0.040, ymax=0.165, ytick={0.05,0.10,0.15}]
\traces{\sigmatr}
\end{axis}
\end{tikzpicture}
\end{document}
